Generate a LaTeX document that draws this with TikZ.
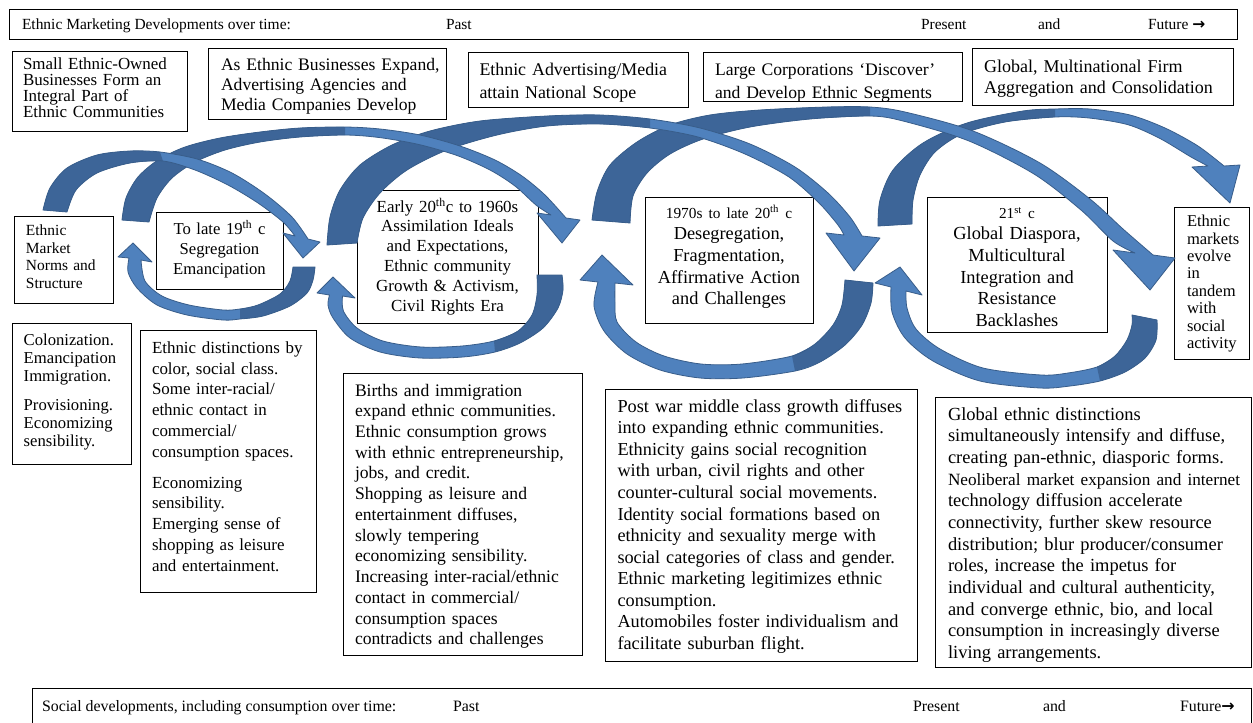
\documentclass[tikz,border=0pt]{standalone}
\usepackage{fontspec}
\setmainfont{Liberation Serif}
\newfontfamily\symfont{DejaVu Sans}
\usetikzlibrary{fit}
\definecolor{arrLight}{RGB}{79,129,189}
\definecolor{arrDark}{RGB}{61,101,152}
\definecolor{arrEdge}{RGB}{56,93,138}
\newcommand\fsz[2]{\fontsize{#1}{#2}\selectfont}
\newcommand\ribbonarrow[5]{%
  \fill[arrlight] plot[smooth] coordinates {#1 #2} #3 -- plot[smooth] coordinates {#4 #5} -- cycle;
  \fill[arrdark] plot[smooth] coordinates {#1} -- plot[smooth] coordinates {#5} -- cycle;
  \draw[arredge] plot[smooth] coordinates {#1 #2} #3 -- plot[smooth] coordinates {#4 #5} -- cycle;
}
\tikzset{
  frame/.style={draw=black, line width=0.75pt, fill=white, inner sep=0pt, outer sep=0pt},
  ltext/.style={inner sep=0pt, outer sep=0pt, align=left, anchor=base west, text width=9cm},
  ctext/.style={inner sep=0pt, outer sep=0pt, align=center, anchor=base, text width=9cm},
  bartext/.style={inner sep=0pt, outer sep=0pt, anchor=base west, font=\fsz{11.6pt}{14pt}},
  botbartext/.style={inner sep=0pt, outer sep=0pt, anchor=base west, font=\fsz{11.9pt}{14pt}},
  arrlight/.style={fill=arrLight},
  arrdark/.style={fill=arrDark},
  arredge/.style={draw=arrEdge, line width=0.6pt, line join=round},
}
\begin{document}
\begin{tikzpicture}[x=0.75pt, y=-0.75pt]
\useasboundingbox (0,0) rectangle (1253,722);
\fill[white] (0,0) rectangle (1253,722);

% ---------- frames ----------
\node[frame, fit={(9,9) (1237,39)}] (topbar) {};
\node[frame, fit={(32,688) (1251,724)}] (botbar) {};
\node[frame, fit={(12,51) (187,131)}] (f1) {};
\node[frame, fit={(208,48) (446,119)}] (f2) {};
\node[frame, fit={(468,52) (688,107)}] (f3) {};
\node[frame, fit={(703,52) (962,101.5)}] (f4) {};
\node[frame, fit={(972,48) (1233,105)}] (f5) {};
\node[frame, fit={(14,216) (113,303)}] (fem) {};
\node[frame, fit={(156,212) (283,289)}] (f19) {};
\node[frame, fit={(357,190) (538,323)}] (f20) {};
\node[frame, fit={(645,197) (813,323)}] (f70) {};
\node[frame, fit={(927,197) (1107,332)}] (f21) {};
\node[frame, fit={(1174,207) (1249,359)}] (fev) {};
\node[frame, fit={(12,323) (131,464)}] (fcol) {};
\node[frame, fit={(140,330) (316,592)}] (fdist) {};
\node[frame, fit={(343,373) (582,655)}] (fbirth) {};
\node[frame, fit={(605,389) (917,661)}] (fpost) {};
\node[frame, fit={(935,397) (1251,667)}] (fglob) {};

% ---------- bar texts ----------
\node[bartext] (tt1) at (22,29) {Ethnic Marketing Developments over time:};
\node[bartext] (tt2) at (446,29) {Past};
\node[bartext] (tt3) at (921,29) {Present};
\node[bartext] (tt4) at (1038,29) {and};
\node[bartext] (tt5) at (1148,29) {Future {\symfont\bfseries →}};
\node[botbartext] (bt1) at (42,711) {Social developments, including consumption over time:};
\node[botbartext] (bt2) at (453,711) {Past};
\node[botbartext] (bt3) at (913,711) {Present};
\node[botbartext] (bt4) at (1043,711) {and};
\node[botbartext] (bt5) at (1180,711) {Future{\symfont\bfseries →}};

% ---------- box texts ----------
\node[ltext, font=\fsz{12.7pt}{12pt}] (t1) at (23,69.3) {Small Ethnic-Owned\\Businesses Form an\\Integral Part of\\Ethnic Communities};
\node[ltext, font=\fsz{13.2pt}{15pt}] (t2) at (221,70.5) {As Ethnic Businesses Expand,\\Advertising Agencies and\\Media Companies Develop};
\node[ltext, font=\fsz{13.4pt}{17.2pt}] (t3) at (479.5,75.3) {Ethnic Advertising/Media\\attain National Scope};
\node[ltext, font=\fsz{13.2pt}{17pt}] (t4) at (715,75.5) {Large Corporations ‘Discover’\\and Develop Ethnic Segments};
\node[ltext, font=\fsz{13.5pt}{16.1pt}] (t5) at (984,72.5) {Global, Multinational Firm\\Aggregation and Consolidation};
\node[ltext, font=\fsz{11.6pt}{13.3pt}] (tem) at (26,235.5) {Ethnic\\Market\\Norms and\\Structure};
\node[ctext, font=\fsz{12.5pt}{15pt}] (t19) at (219.5,234) {To late 19\textsuperscript{th} c\\Segregation\\Emancipation};
\node[ctext, font=\fsz{12.7pt}{14.9pt}] (t20) at (447.5,212) {Early 20\textsuperscript{th}c to 1960s\\Assimilation Ideals\\and Expectations,\\Ethnic community\\Growth \& Activism,\\Civil Rights Era};
\node[ctext, font=\fsz{13.75pt}{16.25pt}] (t70) at (729,218.3) {{\fsz{11.5pt}{16.25pt}1970s to late 20\textsuperscript{th} c}\\Desegregation,\\Fragmentation,\\Affirmative Action\\and Challenges};
\node[ctext, font=\fsz{13.8pt}{16.25pt}] (t21) at (1017,218.3) {{\fsz{11.4pt}{16.25pt}21\textsuperscript{st} c}\\Global Diaspora,\\Multicultural\\Integration and\\Resistance\\Backlashes};
\node[ltext, font=\fsz{12.4pt}{13.05pt}] (tev) at (1187,226.7) {Ethnic\\markets\\evolve\\in\\tandem\\with\\social\\activity};
\node[ltext, font=\fsz{12.5pt}{13.75pt}] (tcol) at (23.7,345) {Colonization.\\Emancipation\\Immigration.\\[7.5pt]Provisioning.\\Economizing\\sensibility.};
\node[ltext, font=\fsz{12.7pt}{15.6pt}] (tdist) at (152,353.3) {Ethnic distinctions by\\color, social class.\\Some inter-racial/\\ethnic contact in\\commercial/\\consumption spaces.\\[7.5pt]Economizing\\sensibility.\\Emerging sense of\\shopping as leisure\\and entertainment.};
\node[ltext, font=\fsz{13.2pt}{15.56pt}] (tbirth) at (355,396) {Births and immigration\\expand ethnic communities.\\Ethnic consumption grows\\with ethnic entrepreneurship,\\jobs, and credit.\\Shopping as leisure and\\entertainment diffuses,\\slowly tempering\\economizing sensibility.\\Increasing inter-racial/ethnic\\contact in commercial/\\consumption spaces\\contradicts and challenges};
\node[ltext, font=\fsz{13.7pt}{16.16pt}] (tpost) at (617.5,412.3) {Post war middle class growth diffuses\\into expanding ethnic communities.\\Ethnicity gains social recognition\\with urban, civil rights and other\\counter-cultural social movements.\\Identity social formations based on\\ethnicity and sexuality merge with\\social categories of class and gender.\\Ethnic marketing legitimizes ethnic\\consumption.\\Automobiles foster individualism and\\facilitate suburban flight.};
\node[ltext, font=\fsz{13.85pt}{16.25pt}] (tglob) at (948,420) {Global ethnic distinctions\\simultaneously intensify and diffuse,\\creating pan-ethnic, diasporic forms.\\{\fsz{12.9pt}{16.25pt}Neoliberal market expansion and internet}\\technology diffusion accelerate\\connectivity, further skew resource\\distribution; blur producer/consumer\\roles, increase the impetus for\\individual and cultural authenticity,\\and converge ethnic, bio, and local\\consumption in increasingly diverse\\living arrangements.};

% ---------- curved arrows (upper) ----------
\ribbonarrow % U5
{(878,226) (880,200) (893,170) (923,143) (967,123) (1023,111) (1055,109)}
{(1090,109) (1130,115) (1165,128) (1198,146) (1224,166)}
{-- (1240,165) -- (1230,203) -- (1192,167)}
{(1208,166) (1191,157) (1160,138.5) (1128,124.7) (1089,118)}
{(1055,117) (1005,122) (962,134) (935,152) (920,175) (913,200) (912,224)}
\ribbonarrow % U4
{(592,220) (597,192) (610,165) (637,142) (670,125) (710,115) (760,110) (827,107) (870,107)}
{(905,112) (973,131) (1040,163) (1090,199) (1123,229) (1153,255)}
{-- (1175,258) -- (1150,290) -- (1113,250)}
{(1135,253) (1113,241) (1081,210) (1034,174) (969,141) (903,121)}
{(870,116) (810,119) (750,127) (703,139) (670,154) (647,173) (633,196) (630,223)}
\ribbonarrow % U3
{(327,245) (330,217) (340,190) (360,165) (392,145) (430,131) (480,121) (547,116) (600,115) (650,119)}
{(700,128) (750,144) (795,167) (828,193) (850,217) (862,236)}
{-- (880,238) -- (854,271) -- (826,233)}
{(844,235) (838,225) (819,203) (789,177) (745,154) (698,137)}
{(650,128) (600,124) (547,126) (497,135) (447,150) (407,170) (380,193) (363,218) (357,243)}
\ribbonarrow % U2
{(122,220) (126,198) (138,177) (158,160) (185,147) (220,138) (260,132) (300,128) (345,127)}
{(380,129) (420,135) (460,146) (495,160) (522,176) (545,195) (566,218)}
{-- (580,220) -- (562,243) -- (537,213)}
{(551,215) (536,205) (515,186) (490,170) (457,155.5) (418,144.3) (379,137.5)}
{(345,135) (300,137) (260,142) (225,150) (195,162) (172,178) (157,198) (149,222)}
\ribbonarrow % U1
{(43,210) (50,188) (67,168) (97,155) (130,151) (160,152)}
{(197,159) (232,173) (265,194) (292,217) (308,239)}
{-- (320,242) -- (303,258) -- (283,233)}
{(295,236) (283,222) (258,203) (228,185) (195,170)}
{(163,161) (130,163) (97,173) (76,190) (67,212)}

% ---------- curved arrows (lower) ----------
\ribbonarrow % L4
{(1157,320) (1156,340) (1145,358) (1125,372) (1100,381)}
{(1070,386) (1040,388) (980,381) (933,361) (905,338) (892,312) (891,287)}
{-- (875,283) -- (900,267) -- (922,295)}
{(906,291) (907,308) (916,329) (940,349) (983,368) (1041,375) (1068,373)}
{(1097,367) (1115,356) (1127,340) (1132,325) (1132,315)}
\ribbonarrow % L3
{(873,283) (871,303) (862,325) (845,345) (820,362) (795,371)}
{(743,378) (700,378) (660,370) (627,354) (604,331) (594,306) (598,282)}
{-- (580,280) -- (602,255) -- (633,285)}
{(615,283) (615,302) (617,322) (636,342) (664,356) (701,364) (742,364)}
{(792,356) (815,344) (833,325) (842,305) (845,280)}
\ribbonarrow % L2
{(562,275) (563,290) (558,308) (543,328) (520,343) (495,352)}
{(463,357) (420,358) (380,352) (350,338) (333,318) (328,305) (329.5,295)}
{-- (317,293) -- (333,277) -- (355,298)}
{(342.5,296) (343.4,311) (357,328) (383,341) (421,347) (462,346)}
{(494,341) (518,331) (532,315) (537,295) (537,275)}
\ribbonarrow % L1
{(315,267) (313,280) (307,293) (290,306) (263,316) (240,319)}
{(223,320) (187,315) (157,305) (137,288) (128,272) (129,258)}
{-- (118,257) -- (133,243) -- (152,262)}
{(141,260) (145,281) (162,296) (189,305) (223,310)}
{(240,309) (258,305) (280,294) (290,281) (293,267)}
\end{tikzpicture}
\end{document}
